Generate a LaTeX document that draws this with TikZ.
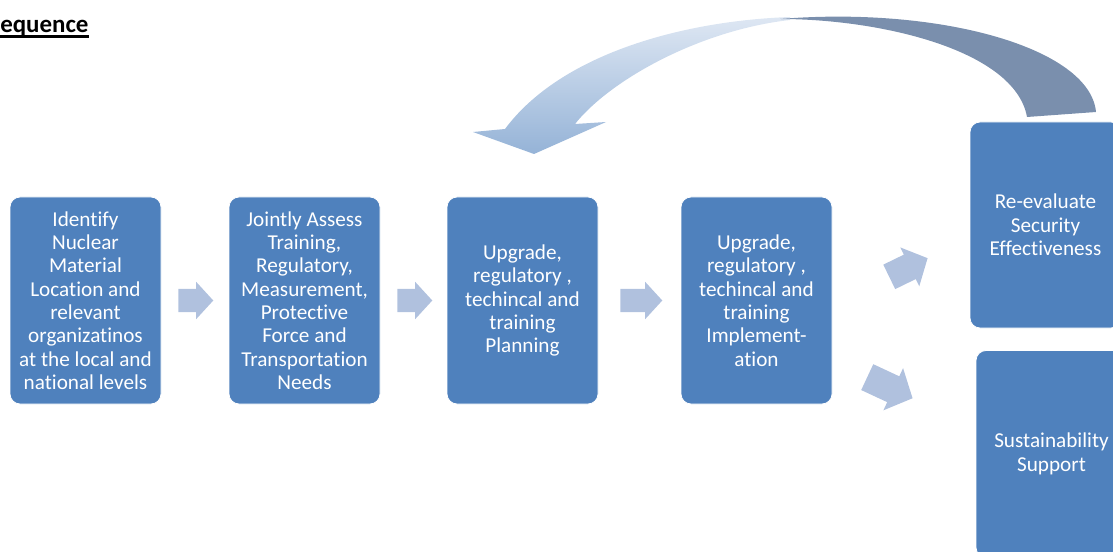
\documentclass[tikz,border=0pt]{standalone}
\usepackage{fontspec}
\setmainfont{Carlito}[Ligatures={NoCommon}]
\usetikzlibrary{shapes.arrows}

\definecolor{boxblue}{RGB}{79,129,189}
\definecolor{arrowblue}{RGB}{176,193,222}
\definecolor{loopdark}{RGB}{122,143,173}
\definecolor{looptop}{RGB}{222,231,243}
\definecolor{loopbot}{RGB}{149,179,215}

\begin{document}
\begin{tikzpicture}[
    x=0.75pt, y=-0.75pt,
    stepbox/.style={draw=white, line width=0.6pt, fill=boxblue, rounded corners=7.5pt, minimum width=113.25pt, minimum height=155.25pt, align=center, text=white, inner sep=1pt, font=\fontsize{15.9pt}{17.5pt}\selectfont},
    fwd/.style={single arrow, fill=arrowblue, draw=none, anchor=tail, inner xsep=0pt, inner ysep=8.6pt, single arrow head extend=5.25pt, single arrow tip angle=95, minimum height=26.25pt}
]
\useasboundingbox (0,0) rectangle (1113,552);
\clip (0,0) rectangle (1113,552);

\node[anchor=base west, inner sep=0pt, font=\fontsize{18.7pt}{22pt}\selectfont\bfseries] (title) at (0,33) {equence};
\draw[line width=2.25pt] ([yshift=-3pt]title.base west) -- ([yshift=-3pt]title.base east);

% process boxes
\node[stepbox] (ident) at (85.5,300.5) {Identify\\Nuclear\\Material\\Location and\\relevant\\organizatinos\\at the local and\\national levels};
\node[stepbox] (assess) at (304.5,300.5) {Jointly Assess\\Training,\\Regulatory,\\Measurement,\\Protective\\Force and\\Transportation\\Needs};
\node[stepbox] (plan) at (522.5,300.5) {Upgrade,\\regulatory ,\\techincal and\\training\\Planning};
\node[stepbox] (implement) at (756.5,300.5) {Upgrade,\\regulatory ,\\techincal and\\training\\Implement-\\ation};
\node[stepbox, minimum height=154.5pt] (reeval) at (1045.5,225) {Re-evaluate\\Security\\Effectiveness};
\node[stepbox] (sustain) at (1051.5,454) {Sustainability\\Support};

% block arrows
\node[fwd] (a1) at (178,300.5) {};
\node[fwd] (a2) at (397,300.5) {};
\node[fwd, minimum height=31.5pt] (a3) at (620,300.5) {};
\node[fwd, rotate=26, minimum height=32pt, inner ysep=10pt, single arrow head extend=6pt] (a4) at (889,277) {};
\node[fwd, rotate=-25, minimum height=37.5pt, inner ysep=10.5pt, single arrow head extend=6.75pt] (a5) at (867,377) {};

% loop back arrow
\shade[top color=looptop, bottom color=loopbot] (473,132) -- (534,154) -- (606,122) -- (575,124) .. controls (610,80) and (700,30) .. (790,20) -- (790,17) .. controls (680,21) and (560,55) .. (505,129) -- cycle;
\fill[loopdark] (780,19) .. controls (940,6) and (1090,48) .. (1096,112) -- (1027,117) .. controls (1015,50) and (880,19) .. cycle;
\end{tikzpicture}
\end{document}
